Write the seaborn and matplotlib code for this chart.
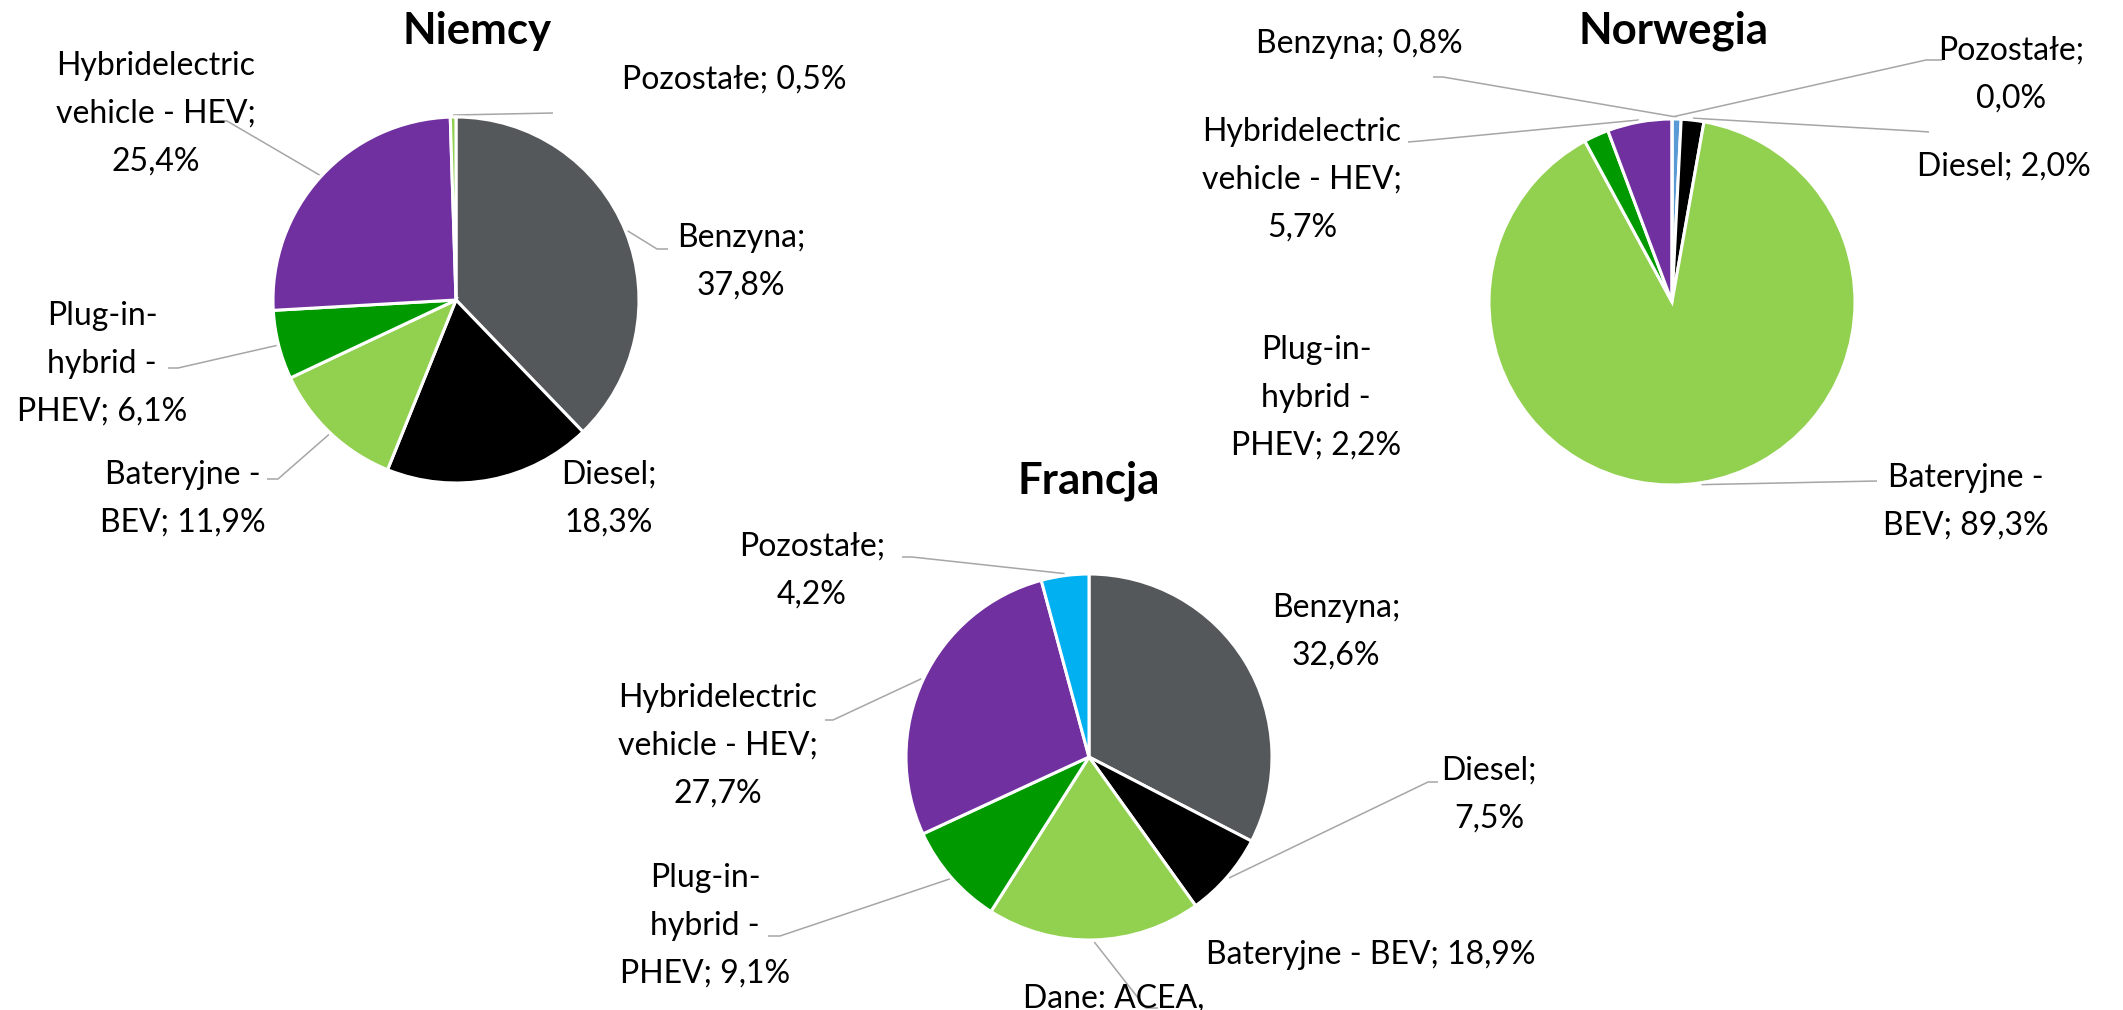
import numpy as np
import matplotlib
matplotlib.use("Agg")
import matplotlib.pyplot as plt
import seaborn as sns

# ---------------- data ----------------
categories = ["Benzyna", "Diesel", "Bateryjne - BEV", "Plug-in-hybrid - PHEV",
              "Hybridelectric vehicle - HEV", "Pozostałe"]
de_values = [37.8, 18.3, 11.9, 6.1, 25.4, 0.5]
no_values = [0.8, 2.0, 89.3, 2.2, 5.7, 0.0]
fr_values = [32.6, 7.5, 18.9, 9.1, 27.7, 4.2]
titles = ["Niemcy", "Norwegia", "Francja"]
source_text = "Dane: ACEA,"

# ---------------- style ----------------
sns.set_theme(style="white")
plt.rcParams["font.family"] = ["Lato", "DejaVu Sans"]

W, H = 2123, 1010
fig = plt.figure(figsize=(W / 100, H / 100), dpi=100)
ax = fig.add_axes([0, 0, 1, 1])

GRAY = "#54585A"
BLACK = "#000000"
LGREEN = "#92D050"
GREEN = "#009A00"
PURPLE = "#7030A0"
CYAN = "#00B0F0"
BLUE = "#5B9BD5"

def Y(y):
    return H - y

# label name wrapping (layout) per chart: (wrapped name, separator before value)
wrap_de = [("Benzyna", "\n"), ("Diesel", "\n"), ("Bateryjne -\nBEV", " "),
           ("Plug-in-\nhybrid -\nPHEV", " "), ("Hybridelectric\nvehicle - HEV", "\n"),
           ("Pozostałe", " ")]
wrap_no = [("Benzyna", " "), ("Diesel", " "), ("Bateryjne -\nBEV", " "),
           ("Plug-in-\nhybrid -\nPHEV", " "), ("Hybridelectric\nvehicle - HEV", "\n"),
           ("Pozostałe", "\n")]
wrap_fr = [("Benzyna", "\n"), ("Diesel", "\n"), ("Bateryjne - BEV", " "),
           ("Plug-in-\nhybrid -\nPHEV", " "), ("Hybridelectric\nvehicle - HEV", "\n"),
           ("Pozostałe", "\n")]

charts = [
    dict(values=de_values, wrap=wrap_de, center=(456, 300), title_pos=(477, 31),
         colors=[GRAY, BLACK, LGREEN, GREEN, PURPLE, LGREEN],
         label_pos=[(741, 262), (609, 499), (183, 499), (102, 364), (156, 114), (734, 80)],
         leaders=[[(657, 249), (668, 249)], None, [(278, 479), (267, 479)],
                  [(178, 368), (168, 368)], [(227, 121), (217, 121)], [(553, 113)]]),
    dict(values=no_values, wrap=wrap_no, center=(1672, 302), title_pos=(1674, 31),
         colors=[BLUE, BLACK, LGREEN, GREEN, PURPLE, CYAN],
         label_pos=[(1359, 44), (2004, 167), (1966, 502), (1316, 398), (1302, 180), (2011, 75)],
         leaders=[[(1443, 77), (1433, 77)], [(1915, 131), (1929, 132)], [(1877, 481)],
                  None, [(1420, 141), (1408, 142)], [(1926, 60), (1942, 60)]]),
    dict(values=fr_values, wrap=wrap_fr, center=(1089, 757), title_pos=(1089, 481),
         colors=[GRAY, BLACK, LGREEN, GREEN, PURPLE, CYAN],
         label_pos=[(1336, 632), (1489, 795), (1371, 955), (705, 926), (718, 746), (812, 571)],
         leaders=[None, [(1428, 782), (1438, 782)], [(1146, 1008), (1158, 1008)],
                  [(780, 936), (768, 936)], [(833, 720), (825, 720)], [(912, 557), (902, 557)]]),
]

R = 183
LABEL_FS = 23
for ch, title in zip(charts, titles):
    cx, cy = ch["center"]
    wedges, _ = ax.pie(ch["values"], colors=ch["colors"], startangle=90,
                       counterclock=False, center=(cx, Y(cy)), radius=R,
                       wedgeprops=dict(edgecolor="white", linewidth=2.2))
    for w, (name, sep), val, lp, ld in zip(wedges, ch["wrap"], ch["values"],
                                           ch["label_pos"], ch["leaders"]):
        txt = f"{name};{sep}{val:.1f}%".replace(".", ",")
        ax.text(lp[0], Y(lp[1]), txt, ha="center", va="center", multialignment="center",
                fontsize=LABEL_FS, color="black", linespacing=1.75)
        if ld is not None:
            mid = np.deg2rad((w.theta1 + w.theta2) / 2)
            sx = cx + (R + 2) * np.cos(mid)
            sy = Y(cy) + (R + 2) * np.sin(mid)
            xs = [sx] + [p[0] for p in ld]
            ys = [sy] + [Y(p[1]) for p in ld]
            ax.plot(xs, ys, color="#A6A6A6", lw=1.1, solid_capstyle="butt", zorder=0.5)
    ax.text(ch["title_pos"][0], Y(ch["title_pos"][1]), title, ha="center", va="center",
            fontsize=31.5, fontweight="bold", color="black")

ax.text(1114, Y(1008), source_text, ha="center", va="baseline", fontsize=LABEL_FS,
        color="black")

ax.set_xlim(0, W)
ax.set_ylim(0, H)
ax.set_aspect("equal")
ax.axis("off")
fig.savefig("out.png", dpi=100, facecolor="white")
